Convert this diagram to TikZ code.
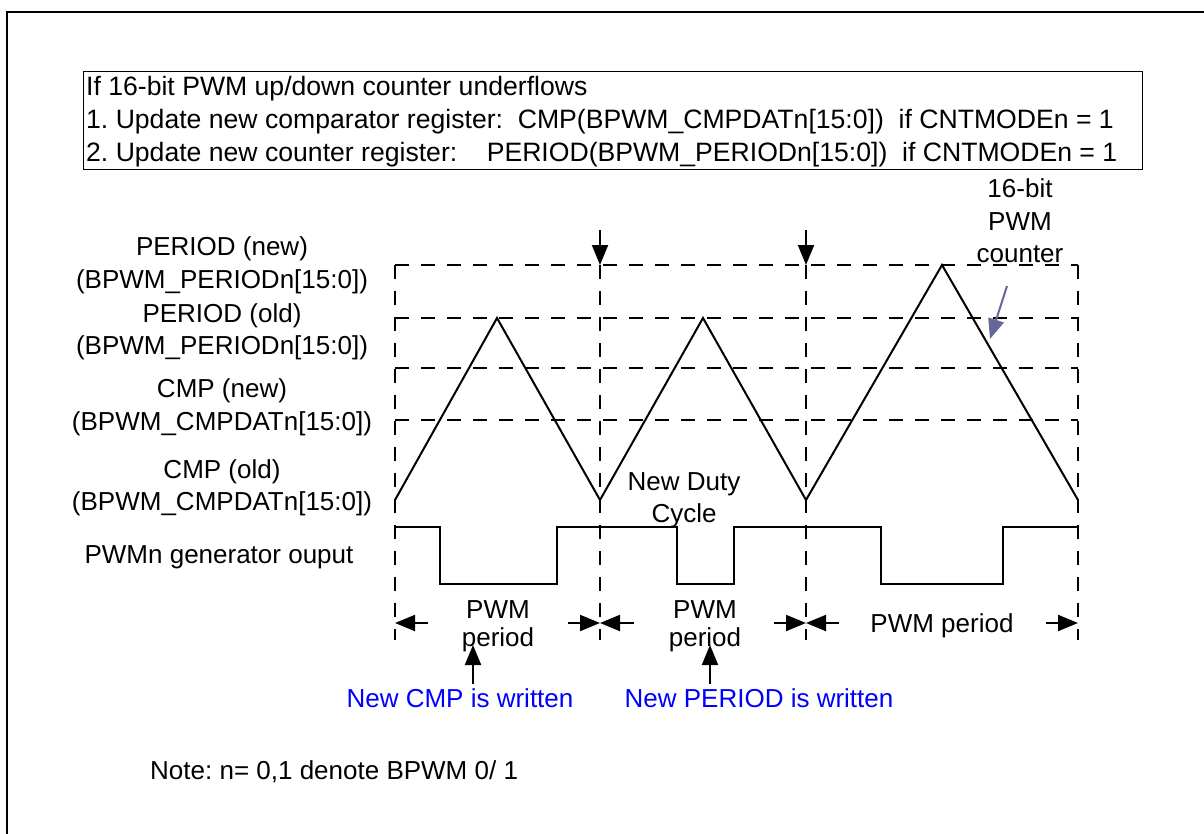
\documentclass[tikz,border=0pt]{standalone}
\usepackage{fontspec}
\setmainfont{Liberation Sans}
\usetikzlibrary{arrows.meta}
\definecolor{slate}{RGB}{102,102,153}
\definecolor{pureblue}{RGB}{0,0,255}
\frenchspacing
\begin{document}
\begin{tikzpicture}[x=1pt,y=-1pt,
  lbl/.style={font=\fontsize{26}{30}\selectfont, inner sep=0pt, anchor=base},
  boxlbl/.style={font=\fontsize{26.6}{30}\selectfont, inner sep=0pt, anchor=base west},
  dashln/.style={dash pattern=on 14pt off 12pt, line width=2pt},
  wave/.style={line width=2pt, line join=miter},
  dimarrow/.style={line width=2pt, -{Triangle[length=20pt,width=16pt]}},
]
\useasboundingbox (0,0) rectangle (1204,833);
\fill[white] (0,0) rectangle (1204,833);
% outer frame (only left and top visible)
\draw[line width=2.5pt] (7,845) -- (7,12) -- (1215,12);

% condition box
\node (box) [draw, line width=1.2pt, anchor=north west, minimum width=1059pt, minimum height=98pt, inner sep=0pt] at (83,71) {};
\node (c1) [boxlbl] at (86,95) {If 16-bit PWM up/down counter underflows};
\node (c2) [boxlbl] at (86,128) {1. Update new comparator register:\hspace{0.556em}CMP(BPWM\_CMPDATn[15:0])\hspace{0.556em}if CNTMODEn = 1};
\node (c3) [boxlbl] at (86,161) {2. Update new counter register:\hspace{1.11em}PERIOD(BPWM\_PERIODn[15:0])\hspace{0.556em}if CNTMODEn = 1};

% left labels
\node (l1) [lbl] at (222,255) {PERIOD (new)};
\node (l2) [lbl] at (222,288) {(BPWM\_PERIODn[15:0])};
\node (l3) [lbl] at (222,322) {PERIOD (old)};
\node (l4) [lbl] at (222,354) {(BPWM\_PERIODn[15:0])};
\node (l5) [lbl] at (222,397) {CMP (new)};
\node (l6) [lbl] at (222,430) {(BPWM\_CMPDATn[15:0])};
\node (l7) [lbl] at (222,478) {CMP (old)};
\node (l8) [lbl] at (222,510) {(BPWM\_CMPDATn[15:0])};
\node (l9) [lbl] at (219,563) {PWMn generator ouput};

% dashed level lines
\draw[dashln] (395,265) -- (1078,265);
\draw[dashln] (395,318) -- (1078,318);
\draw[dashln] (395,368) -- (1078,368);
\draw[dashln] (395,420) -- (1078,420);
% dashed vertical lines
\draw[dashln] (395,265) -- (395,640);
\draw[dashln] (600,265) -- (600,640);
\draw[dashln] (806,265) -- (806,640);
\draw[dashln] (1078,265) -- (1078,640);

% update arrows at underflow
\coordinate (u1s) at (600,230);
\coordinate (u1e) at (600,265);
\coordinate (u2s) at (806,230);
\coordinate (u2e) at (806,265);
\draw[dimarrow] (u1s) -- (u1e);
\draw[dimarrow] (u2s) -- (u2e);

% triangle counter
\coordinate (t0) at (395,500);
\coordinate (t1) at (497,318);
\coordinate (t2) at (600,500);
\coordinate (t3) at (703,318);
\coordinate (t4) at (806,500);
\coordinate (t5) at (942,265);
\coordinate (t6) at (1078,500);
\draw[wave] (t0) -- (t1) -- (t2) -- (t3) -- (t4) -- (t5) -- (t6);

% PWM output
\draw[wave] (395,527) -- (440,527) -- (440,584) -- (557,584) -- (557,527)
  -- (677,527) -- (677,584) -- (734,584) -- (734,527)
  -- (881,527) -- (881,584) -- (1003,584) -- (1003,527) -- (1078,527);

% counter label and arrow
\node (cnt1) [lbl] at (1020,197) {16-bit};
\node (cnt2) [lbl] at (1020,230) {PWM};
\node (cnt3) [lbl] at (1020,262) {counter};
\coordinate (ca) at (1007,286);
\coordinate (cb) at (990,339);
\draw[line width=2pt, slate, -{Triangle[length=20pt,width=16pt]}] (ca) -- (cb);

% new duty cycle
\node (nd1) [lbl] at (684,490) {New Duty};
\node (nd2) [lbl] at (684,522) {Cycle};

% period dimension arrows
\draw[dimarrow] (428,623) -- (395,623);
\draw[dimarrow] (568,623) -- (600,623);
\draw[dimarrow] (634,623) -- (600,623);
\draw[dimarrow] (774,623) -- (806,623);
\draw[dimarrow] (839,623) -- (806,623);
\draw[dimarrow] (1046,623) -- (1078,623);

\node (p1a) [lbl] at (498,618) {PWM};
\node (p1b) [lbl] at (498,646) {period};
\node (p2a) [lbl] at (705,618) {PWM};
\node (p2b) [lbl] at (705,646) {period};
\node (p3) [lbl] at (942,632) {PWM period};

% written markers
\node (w1) [lbl, text=pureblue] at (460,707) {New CMP is written};
\node (w2) [lbl, text=pureblue] at (759,707) {New PERIOD is written};
\coordinate (w1s) at (473,684);
\coordinate (w1e) at (473,645);
\coordinate (w2s) at (710,684);
\coordinate (w2e) at (710,645);
\draw[dimarrow] (w1s) -- (w1e);
\draw[dimarrow] (w2s) -- (w2e);

% note
\node (note) [lbl, anchor=base west] at (150,779) {Note: n= 0,1 denote BPWM 0/ 1};
\end{tikzpicture}
\end{document}
